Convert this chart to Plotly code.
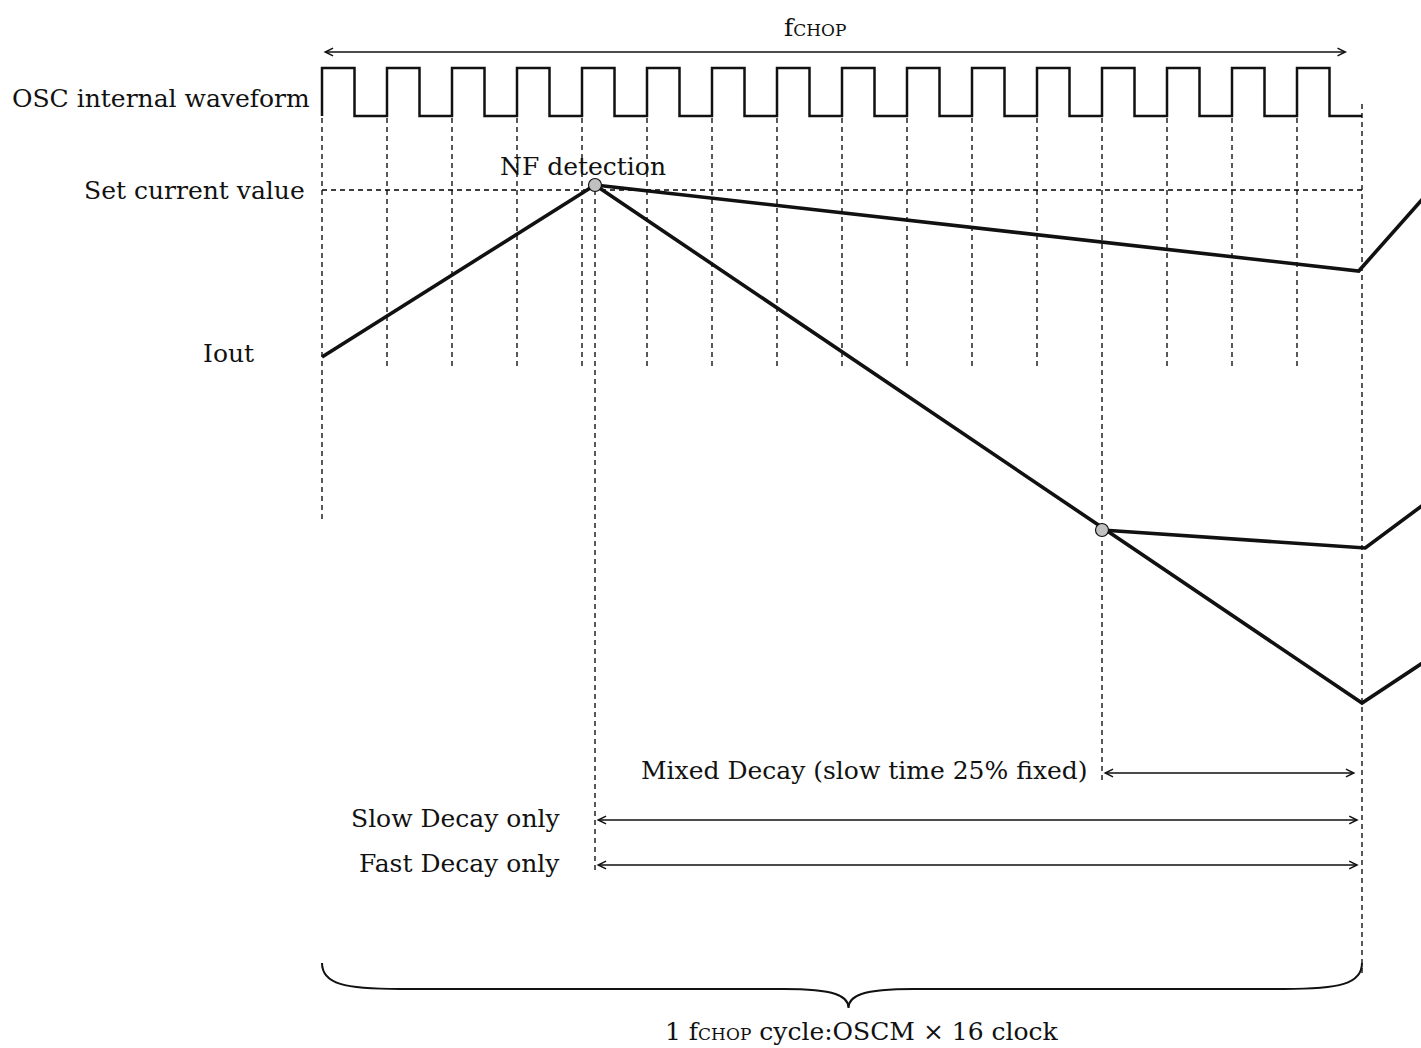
import plotly.graph_objects as go

# ---------------- data (time in OSC clocks, level in diagram units) ----------------
N_CLK = 16                    # clocks per fCHOP cycle
OSC_HIGH, OSC_LOW = 68, 116   # OSC waveform levels
SET_LEVEL = 190               # set current value (dashed reference)
T_NF = 4.2                    # NF detection time
T_MIXED = 12                  # mixed decay switch (slow time 25% fixed)

ramp_t = [0, T_NF]
ramp_y = [357, 185]
slow_t = [T_NF, 15.95, 17.0]
slow_y = [185, 271, 194]
fast_t = [T_NF, 16.0, 17.0]
fast_y = [185, 703, 660]
mixed_t = [T_MIXED, 16.05, 17.0]
mixed_y = [530, 548, 502]
nodes_t = [T_NF, T_MIXED]
nodes_y = [185, 530]

# dashed verticals: (time, top, bottom)
vlines = [(0, 118, 520)] + [(k, 118, 370) for k in range(1, 16) if k != T_MIXED] + \
         [(T_MIXED, 118, 780), (T_NF, 190, 872), (N_CLK, 104, 975)]

FONT = "DejaVu Serif"
INK = "#111111"
X0, CLK = 322, 65.0  # pixel of t=0 and pixels per clock (axis range derived)
FS, FS_SMALL = 25, 17

fig = go.Figure()

# OSC waveform
wx, wy = [0], [OSC_LOW]
for k in range(N_CLK):
    wx += [k, k, k + 0.5, k + 0.5]
    wy += [OSC_LOW, OSC_HIGH, OSC_HIGH, OSC_LOW]
wx.append(N_CLK); wy.append(OSC_LOW)
fig.add_trace(go.Scatter(x=wx, y=wy, mode="lines", line=dict(color=INK, width=2.5),
                         hoverinfo="skip"))

# dashed guides
DASH = dict(color="#000000", width=1.3, dash="5px,4px")
for t, a, b in vlines:
    fig.add_trace(go.Scatter(x=[t, t], y=[a, b], mode="lines", line=DASH, hoverinfo="skip"))
fig.add_trace(go.Scatter(x=[0, N_CLK], y=[SET_LEVEL, SET_LEVEL], mode="lines",
                         line=DASH, hoverinfo="skip"))

# Iout traces
for tx, ty in [(ramp_t, ramp_y), (slow_t, slow_y), (fast_t, fast_y), (mixed_t, mixed_y)]:
    fig.add_trace(go.Scatter(x=tx, y=ty, mode="lines", line=dict(color=INK, width=3.6),
                             hoverinfo="skip"))
fig.add_trace(go.Scatter(x=nodes_t, y=nodes_y, mode="markers",
                         marker=dict(size=13, color="#c0c0c0", line=dict(color=INK, width=1.2)),
                         hoverinfo="skip"))

# double-headed arrows
def darrow(t1, t2, y):
    fig.add_annotation(x=t2, y=y, ax=t1, ay=y, xref="x", yref="y", axref="x", ayref="y",
                       text="", showarrow=True, arrowhead=5, startarrowhead=5,
                       arrowside="end+start", arrowsize=1.1, arrowwidth=1.4, arrowcolor=INK)

darrow(0, 15.77, 52)
darrow(T_MIXED, 15.9, 773)
darrow(T_NF, 15.95, 820)
darrow(T_NF, 15.95, 865)

# brace
brace = ("M 0,963 C 0,984 0.35,989 1.2,989 "
         "L 7.1,989 C 7.9,989 8.1,996 8.1,1008 "
         "C 8.1,996 8.3,989 9.1,989 "
         "L 14.8,989 C 15.65,989 16,984 16,963")
fig.add_shape(type="path", path=brace, xref="x", yref="y", line=dict(color=INK, width=2))

# labels
def label(t, y, text, anchor="right", size=FS):
    fig.add_annotation(x=t, y=y, text=text, showarrow=False, xref="x", yref="y",
                       xanchor=anchor, yanchor="middle",
                       font=dict(family=FONT, size=size, color=INK))

def tpx(p):
    return (p - X0) / CLK

SMALL = f"<span style='font-size:{FS_SMALL}px'>CHOP</span>"
label(tpx(312), 98, "OSC internal waveform")
label(tpx(307), 190, "Set current value")
label(tpx(256), 353, "Iout")
label(tpx(583), 166, "NF detection", anchor="center")
label(tpx(1090), 770, "Mixed Decay (slow time 25% fixed)")
label(tpx(562), 818, "Slow Decay only")
label(tpx(562), 863, "Fast Decay only")
label(tpx(815), 27, "f" + SMALL, anchor="center")
label(tpx(862), 1031, "1 f" + SMALL + " cycle:OSCM × 16 clock", anchor="center")

fig.update_layout(
    width=1421, height=1048, margin=dict(l=0, r=0, t=0, b=0),
    paper_bgcolor="white", plot_bgcolor="white", showlegend=False,
    xaxis=dict(range=[tpx(0), tpx(1421)], visible=False, fixedrange=True),
    yaxis=dict(range=[1048, 0], visible=False, fixedrange=True),
)
fig.write_html("out.html", config={"displayModeBar": False},
               post_script="document.body.style.margin='0';")
